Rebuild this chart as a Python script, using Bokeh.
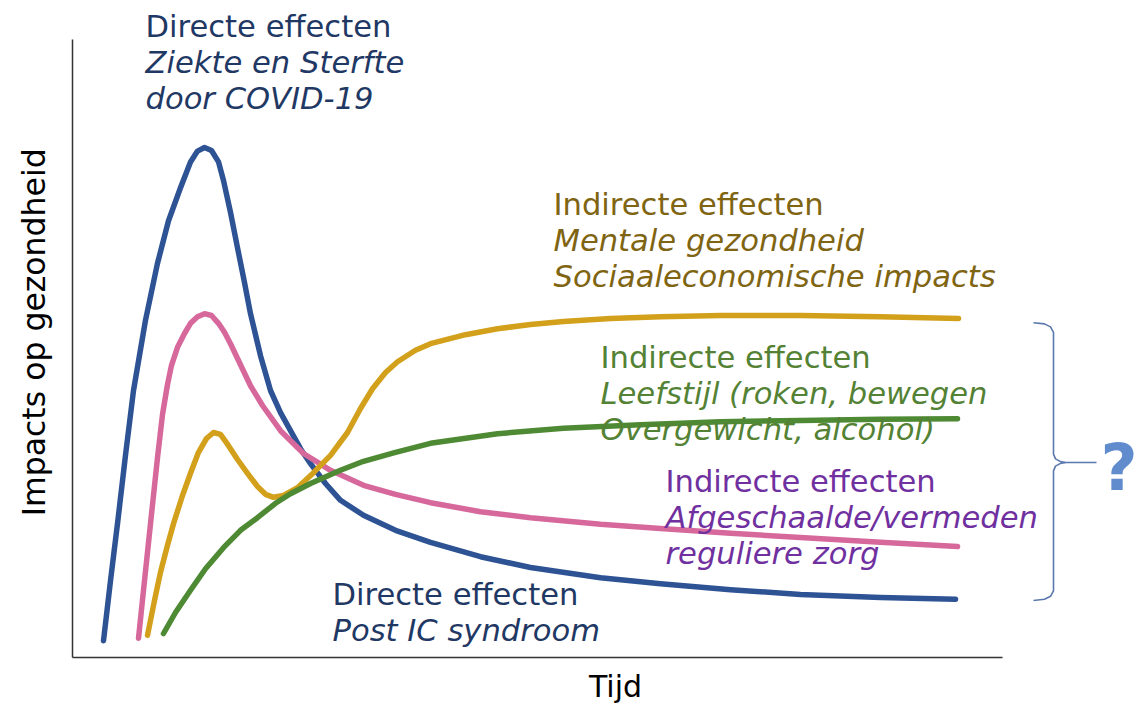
from bokeh.plotting import figure
from bokeh.models import Range1d
from bokeh.core.properties import value
from bokeh.embed import file_html
from bokeh.resources import INLINE
import math

# ---------------- data (time units, impact units) ----------------
direct_t = [3.1, 3.8, 4.5, 5.3, 6.1, 7.3, 8.5, 9.6, 10.8, 11.8, 12.5, 13.2, 13.9, 14.6, 15.1,
            15.8, 16.5, 17.2, 17.8, 18.8, 19.8, 20.8, 21.8, 22.8, 23.8, 25.3, 26.8, 29.1,
            32.3, 35.8, 40.8, 45.8, 52.8, 58.8, 65.8, 72.8, 80.8, 88.3]
direct_v = [2.8, 12.8, 22.3, 33.7, 44.5, 56.2, 65.7, 72.8, 78.3, 82.6, 84.4, 85.0, 84.5, 82.6, 79.5,
            74.2, 68.3, 62.5, 57.3, 50.3, 44.5, 40.8, 37.8, 34.8, 32.3, 29.0, 26.2, 23.7,
            21.2, 19.2, 16.8, 15.0, 13.3, 12.3, 11.3, 10.5, 10.0, 9.7]

care_t = [6.6, 7.1, 7.8, 8.5, 9.0, 9.5, 9.9, 10.5, 11.2, 11.8, 12.5, 13.2, 13.9, 14.6, 15.2, 15.8,
          16.8, 17.8, 19.0, 20.8, 23.1, 25.8, 29.1, 32.3, 35.8, 40.8, 45.8, 52.8, 58.8,
          65.8, 72.8, 80.8, 88.5]
care_v = [3.2, 11.2, 22.3, 33.3, 40.5, 45.5, 48.7, 51.7, 54.0, 55.7, 56.8, 57.3, 57.0, 55.7, 54.2, 52.3,
          48.8, 45.3, 42.0, 37.8, 34.0, 31.2, 28.7, 27.2, 25.8, 24.3, 23.3, 22.2, 21.5,
          20.7, 20.0, 19.2, 18.5]

mental_t = [7.5, 8.2, 8.8, 9.5, 10.1, 11.0, 11.8, 12.6, 13.4, 14.1, 14.8, 15.6, 16.5, 17.5, 18.5,
            19.3, 20.1, 21.1, 22.5, 24.1, 25.8, 27.5, 28.8, 30.0, 31.3, 32.5, 34.3, 35.8,
            39.3, 42.5, 45.8, 49.1, 53.8, 58.8, 64.8, 72.8, 80.8, 88.6]
mental_v = [3.7, 9.5, 14.2, 18.7, 22.3, 27.0, 30.7, 34.2, 36.5, 37.5, 37.2, 35.3, 33.0, 30.7, 28.5,
            27.2, 26.7, 27.0, 28.3, 30.8, 33.7, 37.5, 41.5, 44.8, 47.5, 49.3, 51.2, 52.3,
            53.8, 54.8, 55.5, 56.0, 56.5, 56.8, 57.0, 57.0, 56.8, 56.5]

life_t = [9.1, 10.3, 11.8, 13.3, 15.1, 16.8, 18.5, 20.3, 21.8, 23.8, 26.8, 29.1, 32.3, 35.8,
          42.5, 49.1, 56.8, 64.8, 72.8, 80.8, 88.5]
life_v = [4.0, 7.5, 11.2, 14.8, 18.3, 21.2, 23.3, 25.7, 27.3, 29.0, 31.2, 32.7, 34.2, 35.7,
          37.3, 38.2, 38.8, 39.3, 39.5, 39.7, 39.8]

x_axis_label = "Tijd"
y_axis_label = "Impacts op gezondheid"

labels_direct_top = ["Directe effecten", "Ziekte en Sterfte", "door COVID-19"]
labels_mental = ["Indirecte effecten", "Mentale gezondheid", "Sociaaleconomische impacts"]
labels_life = ["Indirecte effecten", "Leefstijl (roken, bewegen", "Overgewicht, alcohol)"]
labels_care = ["Indirecte effecten", "Afgeschaalde/vermeden", "reguliere zorg"]
labels_direct_bottom = ["Directe effecten", "Post IC syndroom"]

# ---------------- styling ----------------
X_MAX, Y_MAX = 93.0, 103.0
FONT = value("DejaVu Sans")
FS = "30.6px"
LINE_GAP = 6.0  # impact units between text lines
SHIFT = 1.85    # baseline correction

C_BLUE, C_BLUE_T = "#2e5394", "#1f3864"
C_PINK = "#d6689c"
C_GOLD, C_GOLD_T = "#d3a01b", "#7f6412"
C_GREEN, C_GREEN_T = "#4e8a34", "#548235"
C_PURPLE_T = "#7030a0"

p = figure(width=1138, height=704, output_backend="svg", toolbar_location=None,
           x_axis_type=None, y_axis_type=None,
           x_range=Range1d(-7.2, 106.6), y_range=Range1d(-7.8333, 109.5),
           min_border=0, outline_line_color=None)
p.min_border_left = p.min_border_right = p.min_border_top = p.min_border_bottom = 0
p.background_fill_color = "white"
p.border_fill_color = "white"

# axes
p.line([0, 0], [0, Y_MAX], line_color="#333333", line_width=1.5)
p.line([0, X_MAX], [0, 0], line_color="#333333", line_width=1.5)
p.text(x=[-3.9], y=[54.2], text=[y_axis_label], angle=math.pi / 2, text_align="center",
       text_baseline="middle", text_font=FONT, text_font_size="31.5px", text_color="black")
p.text(x=[54.3], y=[-6.6 + SHIFT], text=[x_axis_label], text_align="center",
       text_baseline="alphabetic", text_font=FONT, text_font_size="30px", text_color="black")

# curves
for t, v, c in [(direct_t, direct_v, C_BLUE), (care_t, care_v, C_PINK),
                (mental_t, mental_v, C_GOLD), (life_t, life_v, C_GREEN)]:
    p.line(t, v, line_color=c, line_width=5.5, line_join="round", line_cap="round")


def block(x, y0, lines, color):
    for i, s in enumerate(lines):
        p.text(x=[x], y=[y0 + SHIFT - i * LINE_GAP], text=[s], text_align="left",
               text_baseline="alphabetic", text_font=FONT, text_font_size=FS,
               text_color=color, text_font_style="normal" if i == 0 else "italic")


block(7.3, 103.3, labels_direct_top, C_BLUE_T)
block(48.1, 73.7, labels_mental, C_GOLD_T)
block(52.8, 48.2, labels_life, C_GREEN_T)
block(59.3, 27.5, labels_care, C_PURPLE_T)
block(26.0, 8.7, labels_direct_bottom, C_BLUE_T)

# brace grouping the long-term effects
top = mental_v[-1] - 0.7
bot = direct_v[-1] - 0.2
mid = 32.5
bx0, bx1, bx2 = 96.1, 98.1, 99.3
brace_x = [bx0, 97.2, 97.8, bx1, bx1, 98.3, 98.8, bx2, 102.4]
brace_y = [top, top - 0.2, top - 0.7, top - 1.6, mid + 1.4, mid + 0.6, mid + 0.15, mid, mid]
p.line(brace_x, brace_y, line_color="#5a78ad", line_width=1.6)
brace_x2 = [bx2, 98.8, 98.3, bx1, bx1, 97.8, 97.2, bx0]
brace_y2 = [mid, mid - 0.15, mid - 0.6, mid - 1.4, bot + 1.6, bot + 0.7, bot + 0.2, bot]
p.line(brace_x2, brace_y2, line_color="#5a78ad", line_width=1.6)

p.text(x=[102.8], y=[31.6], text=["?"], text_align="left", text_baseline="alphabetic",
       text_font=value("DejaVu Sans"), text_font_style="bold", text_font_size="64px",
       text_color="#4f7fc8", text_alpha=0.9)

open("out.html", "w").write(file_html(p, INLINE))
